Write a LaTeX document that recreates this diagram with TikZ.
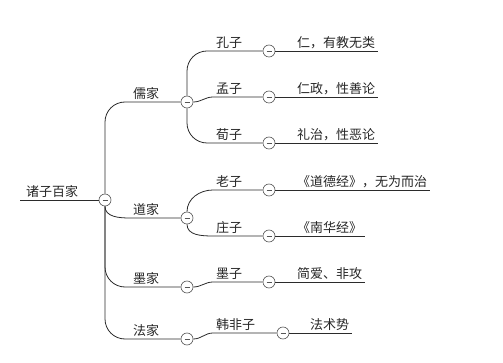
\documentclass[tikz,border=0pt]{standalone}
\usepackage{fontspec}
\newfontfamily\cjk{Noto Sans CJK SC}
\usepackage{tikz}
\usetikzlibrary{positioning}
\definecolor{mmLine}{HTML}{2B2B2B}
\definecolor{mmText}{HTML}{262626}
\definecolor{mmKnob}{HTML}{555555}

\begin{document}
\begin{tikzpicture}[
  x=1pt, y=-1pt,
  font=\cjk\fontsize{13}{15}\selectfont,
  topic/.style={anchor=south west, inner xsep=3pt, inner ysep=2pt,
    text height=0.85em, text depth=0.1em, text=mmText},
  knob/.style={circle, draw=mmKnob, fill=white, line width=0.6pt,
    minimum size=12pt, inner sep=0pt,
    path picture={\draw[mmKnob, line width=0.8pt]
      ([xshift=3.5pt]path picture bounding box.west) --
      ([xshift=-3.5pt]path picture bounding box.east);}},
  branch/.style={draw=mmLine, line width=0.8pt},
  elbow/.style={branch, rounded corners=20pt}
]
\useasboundingbox (0,0) rectangle (503,363);

% knobs
\node[knob] (c-root) at (105,200) {};
\node[knob] (c-ru) at (187,102) {};
\node[knob] (c-dao) at (187,218) {};
\node[knob] (c-mo) at (187,287) {};
\node[knob] (c-fa) at (187,339) {};
\node[knob] (c-kong) at (269,51) {};
\node[knob] (c-meng) at (269,97) {};
\node[knob] (c-xun) at (269,143) {};
\node[knob] (c-lao) at (269,190) {};
\node[knob] (c-zhuang) at (269,236) {};
\node[knob] (c-mozi) at (269,282) {};
\node[knob] (c-han) at (283,333) {};

% topics
\node[topic, inner xsep=6pt] (root) at (20,200) {诸子百家};
\node[topic] (ru) at (130,102) {儒家};
\node[topic] (dao) at (130,218) {道家};
\node[topic] (mo) at (130,287) {墨家};
\node[topic] (fa) at (130,339) {法家};
\node[topic] (kong) at (213,51) {孔子};
\node[topic] (meng) at (213,97) {孟子};
\node[topic] (xun) at (213,143) {荀子};
\node[topic] (lao) at (213,190) {老子};
\node[topic] (zhuang) at (213,236) {庄子};
\node[topic] (mozi) at (213,282) {墨子};
\node[topic] (han) at (213,333) {韩非子};
\node[topic] (l-kong) at (294,51) {仁，有教无类};
\node[topic] (l-meng) at (294,97) {仁政，性善论};
\node[topic] (l-xun) at (294,143) {礼治，性恶论};
\node[topic] (l-lao) at (294,190) {《道德经》，无为而治};
\node[topic] (l-zhuang) at (294,236) {《南华经》};
\node[topic] (l-mozi) at (294,282) {简爱、非攻};
\node[topic] (l-han) at (307,333) {法术势};

% branches
\draw[branch] (root.south west) -- (c-root.west);
\draw[elbow] (c-root.north) |- (c-ru.west);
\draw[branch] (c-root.south) to[out=-90,in=180] (dao.south west) -- (c-dao.west);
\draw[elbow] (c-root.south) |- (c-mo.west);
\draw[elbow] (c-root.south) |- (c-fa.west);

\draw[elbow] (c-ru.north) |- (c-kong.west);
\draw[branch] (c-ru.east) to[out=0,in=180] (meng.south west) -- (c-meng.west);
\draw[elbow] (c-ru.south) |- (c-xun.west);
\draw[branch] (c-dao.north) to[out=90,in=180] (lao.south west) -- (c-lao.west);
\draw[branch] (c-dao.south) to[out=-90,in=180] (zhuang.south west) -- (c-zhuang.west);
\draw[branch] (c-mo.east) to[out=0,in=180] (mozi.south west) -- (c-mozi.west);
\draw[branch] (c-fa.east) to[out=0,in=180] (han.south west) -- (c-han.west);

% leaves
\draw[branch] (c-kong.east) -- (l-kong.south east);
\draw[branch] (c-meng.east) -- (l-meng.south east);
\draw[branch] (c-xun.east) -- (l-xun.south east);
\draw[branch] (c-lao.east) -- (l-lao.south east);
\draw[branch] (c-zhuang.east) -- (l-zhuang.south east);
\draw[branch] (c-mozi.east) -- (l-mozi.south east);
\draw[branch] (c-han.east) -- (l-han.south east);
\end{tikzpicture}
\end{document}
